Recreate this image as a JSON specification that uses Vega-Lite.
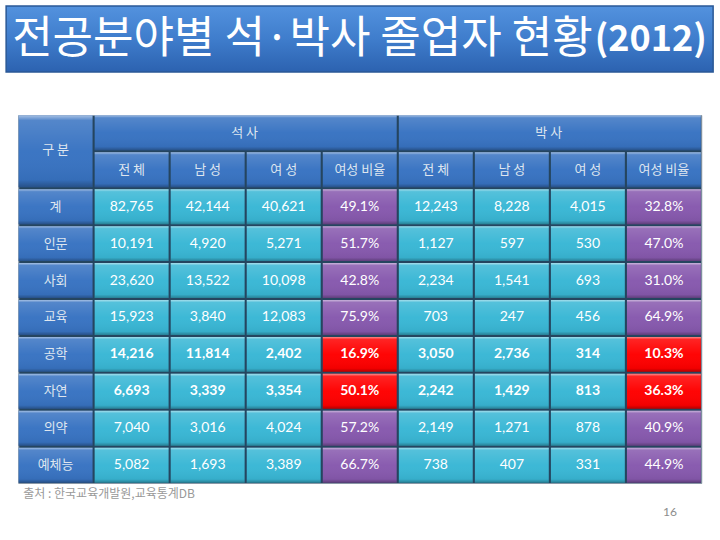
{
  "$schema": "https://vega.github.io/schema/vega-lite/v6.json",
  "background": "white",
  "padding": {"left": 5, "top": 5, "right": 8, "bottom": 5},
  "config": {"view": {"stroke": null}},
  "spacing": 41,
  "center": true,
  "title": {"text": "16", "orient": "bottom", "anchor": "end", "fontSize": 12, "font": "Lato", "fontWeight": "normal", "color": "#8c8c8c", "dx": -37, "offset": 6},
  "datasets": {
    "cells": [
      {"r": "h1", "r2": "h2", "c": "구분", "t": "구 분", "span": "rows"},
      {"r": "h1", "c": "석사 전체", "c2": "석사 여성비율", "mid": "석사 남성", "t": "석 사", "span": "cols"},
      {"r": "h1", "c": "박사 전체", "c2": "박사 여성비율", "mid": "박사 남성", "t": "박 사", "span": "cols"},
      {"r": "h2", "c": "석사 전체", "t": "전 체"},
      {"r": "h2", "c": "석사 남성", "t": "남 성"},
      {"r": "h2", "c": "석사 여성", "t": "여 성"},
      {"r": "h2", "c": "석사 여성비율", "t": "여성 비율"},
      {"r": "h2", "c": "박사 전체", "t": "전 체"},
      {"r": "h2", "c": "박사 남성", "t": "남 성"},
      {"r": "h2", "c": "박사 여성", "t": "여 성"},
      {"r": "h2", "c": "박사 여성비율", "t": "여성 비율"},
      {"r": "계", "c": "구분", "t": "계"},
      {"r": "인문", "c": "구분", "t": "인문"},
      {"r": "사회", "c": "구분", "t": "사회"},
      {"r": "교육", "c": "구분", "t": "교육"},
      {"r": "공학", "c": "구분", "t": "공학"},
      {"r": "자연", "c": "구분", "t": "자연"},
      {"r": "의약", "c": "구분", "t": "의약"},
      {"r": "예체능", "c": "구분", "t": "예체능"},
      {"r": "계", "c": "석사 전체", "v": 82765},
      {"r": "계", "c": "석사 남성", "v": 42144},
      {"r": "계", "c": "석사 여성", "v": 40621},
      {"r": "계", "c": "석사 여성비율", "v": 0.491},
      {"r": "계", "c": "박사 전체", "v": 12243},
      {"r": "계", "c": "박사 남성", "v": 8228},
      {"r": "계", "c": "박사 여성", "v": 4015},
      {"r": "계", "c": "박사 여성비율", "v": 0.328},
      {"r": "인문", "c": "석사 전체", "v": 10191},
      {"r": "인문", "c": "석사 남성", "v": 4920},
      {"r": "인문", "c": "석사 여성", "v": 5271},
      {"r": "인문", "c": "석사 여성비율", "v": 0.517},
      {"r": "인문", "c": "박사 전체", "v": 1127},
      {"r": "인문", "c": "박사 남성", "v": 597},
      {"r": "인문", "c": "박사 여성", "v": 530},
      {"r": "인문", "c": "박사 여성비율", "v": 0.47},
      {"r": "사회", "c": "석사 전체", "v": 23620},
      {"r": "사회", "c": "석사 남성", "v": 13522},
      {"r": "사회", "c": "석사 여성", "v": 10098},
      {"r": "사회", "c": "석사 여성비율", "v": 0.428},
      {"r": "사회", "c": "박사 전체", "v": 2234},
      {"r": "사회", "c": "박사 남성", "v": 1541},
      {"r": "사회", "c": "박사 여성", "v": 693},
      {"r": "사회", "c": "박사 여성비율", "v": 0.31},
      {"r": "교육", "c": "석사 전체", "v": 15923},
      {"r": "교육", "c": "석사 남성", "v": 3840},
      {"r": "교육", "c": "석사 여성", "v": 12083},
      {"r": "교육", "c": "석사 여성비율", "v": 0.759},
      {"r": "교육", "c": "박사 전체", "v": 703},
      {"r": "교육", "c": "박사 남성", "v": 247},
      {"r": "교육", "c": "박사 여성", "v": 456},
      {"r": "교육", "c": "박사 여성비율", "v": 0.649},
      {"r": "공학", "c": "석사 전체", "v": 14216},
      {"r": "공학", "c": "석사 남성", "v": 11814},
      {"r": "공학", "c": "석사 여성", "v": 2402},
      {"r": "공학", "c": "석사 여성비율", "v": 0.169},
      {"r": "공학", "c": "박사 전체", "v": 3050},
      {"r": "공학", "c": "박사 남성", "v": 2736},
      {"r": "공학", "c": "박사 여성", "v": 314},
      {"r": "공학", "c": "박사 여성비율", "v": 0.103},
      {"r": "자연", "c": "석사 전체", "v": 6693},
      {"r": "자연", "c": "석사 남성", "v": 3339},
      {"r": "자연", "c": "석사 여성", "v": 3354},
      {"r": "자연", "c": "석사 여성비율", "v": 0.501},
      {"r": "자연", "c": "박사 전체", "v": 2242},
      {"r": "자연", "c": "박사 남성", "v": 1429},
      {"r": "자연", "c": "박사 여성", "v": 813},
      {"r": "자연", "c": "박사 여성비율", "v": 0.363},
      {"r": "의약", "c": "석사 전체", "v": 7040},
      {"r": "의약", "c": "석사 남성", "v": 3016},
      {"r": "의약", "c": "석사 여성", "v": 4024},
      {"r": "의약", "c": "석사 여성비율", "v": 0.572},
      {"r": "의약", "c": "박사 전체", "v": 2149},
      {"r": "의약", "c": "박사 남성", "v": 1271},
      {"r": "의약", "c": "박사 여성", "v": 878},
      {"r": "의약", "c": "박사 여성비율", "v": 0.409},
      {"r": "예체능", "c": "석사 전체", "v": 5082},
      {"r": "예체능", "c": "석사 남성", "v": 1693},
      {"r": "예체능", "c": "석사 여성", "v": 3389},
      {"r": "예체능", "c": "석사 여성비율", "v": 0.667},
      {"r": "예체능", "c": "박사 전체", "v": 738},
      {"r": "예체능", "c": "박사 남성", "v": 407},
      {"r": "예체능", "c": "박사 여성", "v": 331},
      {"r": "예체능", "c": "박사 여성비율", "v": 0.449}
    ]
  },
  "vconcat": [
    {
      "width": 707,
      "height": 66,
      "data": {"values": [{"main": "전공분야별 석·박사 졸업자 현황", "year": "(2012)"}]},
      "layer": [
        {
          "mark": {"type": "rect", "fill": {"gradient": "linear", "x1": 0, "y1": 0, "x2": 0, "y2": 1, "stops": [{"offset": 0, "color": "#5392de"}, {"offset": 0.5, "color": "#3f7dcc"}, {"offset": 1, "color": "#2c62b0"}]}, "stroke": "#2a5896", "strokeWidth": 1.5},
          "encoding": {}
        },
        {
          "mark": {"type": "text", "align": "right", "baseline": "middle", "dx": 233, "dy": 1, "fontSize": 44, "font": "Noto Sans CJK KR", "color": "white"},
          "encoding": {"text": {"field": "main"}}
        },
        {
          "mark": {"type": "text", "align": "left", "baseline": "middle", "dx": 235, "dy": 1, "fontSize": 36, "fontWeight": "bold", "font": "Noto Sans CJK KR", "color": "white"},
          "encoding": {"text": {"field": "year"}}
        }
      ]
    },
    {
      "width": 683,
      "height": 368,
      "title": {"text": "출처 : 한국교육개발원,교육통계DB", "orient": "bottom", "anchor": "start", "fontSize": 12, "font": "Noto Sans CJK KR", "fontWeight": "normal", "color": "#999999", "offset": 6, "dx": 5},
      "view": {"fill": "#25455f", "stroke": "#8a98a6", "strokeWidth": 1},
      "data": {"name": "cells"},
      "transform": [
        {"calculate": "datum.c2 ? datum.c2 : datum.c", "as": "cEnd"},
        {"calculate": "datum.r2 ? datum.r2 : datum.r", "as": "rEnd"},
        {"calculate": "datum.t ? 'head' : (indexof(datum.c, '비율') >= 0 ? 'pct' : 'num')", "as": "k"},
        {"calculate": "datum.r == '공학' || datum.r == '자연'", "as": "hi"}
      ],
      "layer": [
        {
          "mark": {"type": "rect"},
          "encoding": {
            "x": {"field": "c", "type": "nominal", "bandPosition": 0, "axis": null, "scale": {"domain": ["구분", "석사 전체", "석사 남성", "석사 여성", "석사 여성비율", "박사 전체", "박사 남성", "박사 여성", "박사 여성비율"], "paddingInner": 0.028, "paddingOuter": 0.005}},
            "x2": {"field": "cEnd", "bandPosition": 1},
            "y": {"field": "r", "type": "nominal", "bandPosition": 0, "axis": null, "scale": {"domain": ["h1", "h2", "계", "인문", "사회", "교육", "공학", "자연", "의약", "예체능"], "paddingInner": 0.055, "paddingOuter": 0.01}},
            "y2": {"field": "rEnd", "bandPosition": 1},
            "color": {
              "condition": {"test": "datum.k == 'pct' && datum.hi", "value": "#ff0000"},
              "field": "k", "type": "nominal", "legend": null,
              "scale": {"domain": ["head", "num", "pct"], "range": ["#3873c2", "#39b7d5", "#8759ae"]}
            }
          }
        },
        {
          "mark": {"type": "rect", "fill": {"gradient": "linear", "x1": 0, "y1": 0, "x2": 0, "y2": 1, "stops": [{"offset": 0, "color": "rgba(255,255,255,0.55)"}, {"offset": 0.07, "color": "rgba(255,255,255,0.14)"}, {"offset": 0.5, "color": "rgba(255,255,255,0.02)"}, {"offset": 0.9, "color": "rgba(0,0,0,0.05)"}, {"offset": 1, "color": "rgba(0,0,0,0.3)"}]}},
          "encoding": {
            "x": {"field": "c", "type": "nominal", "bandPosition": 0},
            "x2": {"field": "cEnd", "bandPosition": 1},
            "y": {"field": "r", "type": "nominal", "bandPosition": 0},
            "y2": {"field": "rEnd", "bandPosition": 1}
          }
        },
        {
          "transform": [{"filter": "datum.k == 'head' && !datum.span"}],
          "mark": {"type": "text", "baseline": "middle", "fontSize": 13, "font": "Noto Sans CJK KR", "color": "#dfe6ef"},
          "encoding": {
            "x": {"field": "c", "type": "nominal", "bandPosition": 0.5},
            "y": {"field": "r", "type": "nominal", "bandPosition": 0.5},
            "text": {"field": "t"}
          }
        },
        {
          "transform": [{"filter": "datum.span == 'cols'"}],
          "mark": {"type": "text", "baseline": "middle", "fontSize": 13, "font": "Noto Sans CJK KR", "color": "#dfe6ef"},
          "encoding": {
            "x": {"field": "mid", "type": "nominal", "bandPosition": 1},
            "y": {"field": "r", "type": "nominal", "bandPosition": 0.5},
            "text": {"field": "t"}
          }
        },
        {
          "transform": [{"filter": "datum.span == 'rows'"}],
          "mark": {"type": "text", "baseline": "middle", "fontSize": 13, "font": "Noto Sans CJK KR", "color": "#dfe6ef"},
          "encoding": {
            "x": {"field": "c", "type": "nominal", "bandPosition": 0.5},
            "y": {"field": "r", "type": "nominal", "bandPosition": 1},
            "text": {"field": "t"}
          }
        },
        {
          "transform": [{"filter": "datum.k != 'head' && !datum.hi"}],
          "mark": {"type": "text", "baseline": "middle", "fontSize": 14, "font": "Lato", "color": "white"},
          "encoding": {
            "x": {"field": "c", "type": "nominal", "bandPosition": 0.5},
            "y": {"field": "r", "type": "nominal", "bandPosition": 0.5},
            "text": {"condition": {"test": "datum.k == 'pct'", "field": "v", "format": ".1%"}, "field": "v", "format": ","}
          }
        },
        {
          "transform": [{"filter": "datum.k != 'head' && datum.hi"}],
          "mark": {"type": "text", "baseline": "middle", "fontSize": 14, "font": "Lato", "fontWeight": "bold", "color": "white"},
          "encoding": {
            "x": {"field": "c", "type": "nominal", "bandPosition": 0.5},
            "y": {"field": "r", "type": "nominal", "bandPosition": 0.5},
            "text": {"condition": {"test": "datum.k == 'pct'", "field": "v", "format": ".1%"}, "field": "v", "format": ","}
          }
        }
      ]
    }
  ]
}
